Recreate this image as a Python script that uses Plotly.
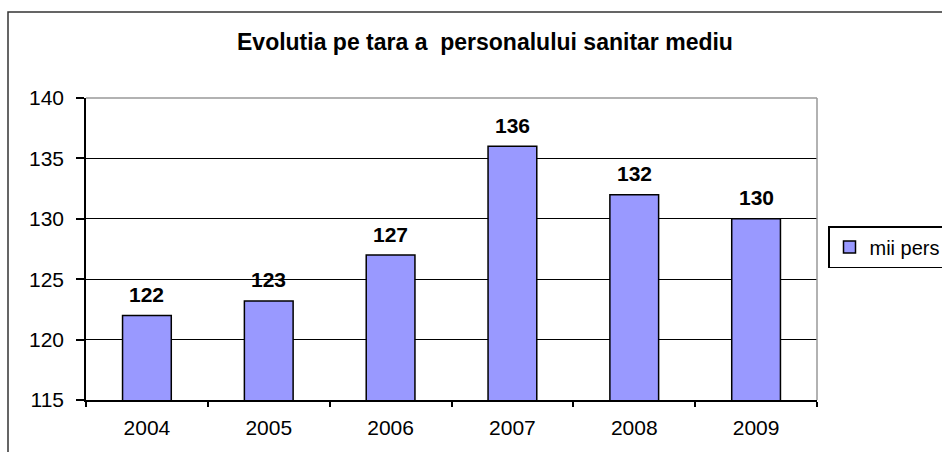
import plotly.graph_objects as go

years = ["2004", "2005", "2006", "2007", "2008", "2009"]
values = [122.0, 123.2, 127.0, 136.0, 132.0, 130.0]
series_name = "mii pers"
title_text = "Evolutia pe tara a  personalului sanitar mediu"
y_ticks = [115, 120, 125, 130, 135, 140]

W, H = 942, 452
L, R, T, B = 86, 125, 98, 52
pw, ph = W - L - R, H - T - B

def px_x(p):
    return (p - L) / pw

def px_y(p):
    return (H - B - p) / ph

FONT = "Liberation Sans, Arial, sans-serif"

fig = go.Figure()
fig.add_trace(go.Bar(
    x=years, y=values, name=series_name,
    marker=dict(color="#9999FF", line=dict(color="black", width=1.5)),
    width=0.4, showlegend=True,
))

annotations = []
for i, v in enumerate(values):
    annotations.append(dict(
        x=i, y=v, xref="x", yref="y", text=f"<b>{v:.0f}</b>",
        showarrow=False, yanchor="middle", yshift=21,
        font=dict(family=FONT, size=21, color="black"),
    ))
annotations.append(dict(
    x=px_x(485), y=px_y(42), xref="paper", yref="paper",
    text=f"<b>{title_text}</b>", showarrow=False,
    xanchor="center", yanchor="middle",
    font=dict(family=FONT, size=23, color="black"),
))

shapes = [
    # outer chart frame
    dict(type="rect", xref="paper", yref="paper",
         x0=px_x(8), x1=px_x(8) + 3, y0=-1, y1=px_y(12),
         line=dict(color="#333333", width=1.5), fillcolor="rgba(0,0,0,0)", layer="below"),
    # plot area border top/right (gray)
    dict(type="line", xref="paper", yref="paper", x0=0, x1=1, y0=1, y1=1,
         line=dict(color="#999999", width=1.5), layer="above"),
    dict(type="line", xref="paper", yref="paper", x0=1, x1=1, y0=0, y1=1,
         line=dict(color="#999999", width=1.5), layer="above"),
]

fig.update_layout(
    width=W, height=H,
    margin=dict(l=L, r=R, t=T, b=B, autoexpand=False),
    paper_bgcolor="white", plot_bgcolor="white",
    font=dict(family=FONT, size=21, color="black"),
    showlegend=True,
    legend=dict(
        x=px_x(828), y=px_y(247), xanchor="left", yanchor="middle",
        bordercolor="black", borderwidth=1.5, bgcolor="white",
        font=dict(family=FONT, size=20, color="black"),
        itemwidth=30,
    ),
    annotations=annotations,
    shapes=shapes,
)
fig.update_xaxes(
    type="category", range=[-0.5, len(years) - 0.5], showgrid=False,
    showline=True, linecolor="black", linewidth=1.5,
    ticks="outside", ticklen=5, tickcolor="black", tickwidth=1.5,
    tickson="boundaries", tickangle=0, ticklabelstandoff=8,
    tickfont=dict(family=FONT, size=21, color="black"),
)
fig.update_yaxes(
    range=[115, 140], tickvals=y_ticks,
    showgrid=True, gridcolor="black", gridwidth=1.2,
    showline=True, linecolor="black", linewidth=1.5,
    ticks="outside", ticklen=8, tickcolor="black", tickwidth=1.5,
    ticklabelstandoff=8,
    tickfont=dict(family=FONT, size=21, color="black"),
    zeroline=False,
)

fig.write_html("out.html", config={"displayModeBar": False},
               post_script="document.body.style.margin='0';")
